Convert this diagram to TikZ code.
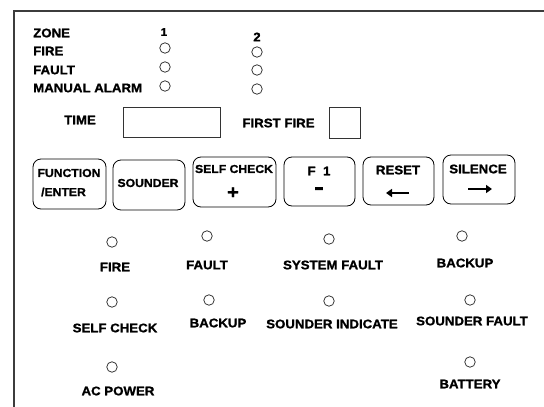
\documentclass[tikz,border=0pt]{standalone}
\usepackage{fontspec}
\usetikzlibrary{arrows.meta}
\newfontfamily\lblfont{Liberation Sans}[FakeStretch=1.06, FakeBold=1.2]
\newfontfamily\barfont{Liberation Sans}[FakeStretch=1.6, FakeBold=5]
\definecolor{framegray}{HTML}{3C3C3C}
\definecolor{ledgray}{HTML}{303030}
\begin{document}
\begin{tikzpicture}[x=1pt,y=-1pt,
  lbl/.style={font=\lblfont\bfseries\fontsize{12.5}{13}\selectfont, inner sep=0pt},
  blbl/.style={font=\lblfont\bfseries\fontsize{11.5}{12}\selectfont, inner sep=0pt},
  blblL/.style={font=\lblfont\bfseries\fontsize{12.5}{13}\selectfont, inner sep=0pt},
  led/.style={circle, draw=ledgray, line width=0.75pt, minimum size=10.5pt, inner sep=0pt},
  btn/.style={draw=black, rounded corners=8pt, line width=0.8pt, inner sep=0pt},
  dispbox/.style={draw=black!80, line width=0.9pt, inner sep=0pt},
  framepen/.style={draw=framegray, line width=1.6pt},
  keyarrow/.style={line width=2.4pt, -{Triangle[length=6pt,width=8pt]}}]
\useasboundingbox (0,0) rectangle (544,407);
\fill[white] (0,0) rectangle (544,407);
% frame
\draw[framepen] (14,408) -- (14,11) -- (545,11);
% zone block
\node[lbl, anchor=west] (zone) at (33,33) {ZONE};
\node[lbl, anchor=west] (fire) at (33,51) {FIRE};
\node[lbl, anchor=west] (fault) at (33,70) {FAULT};
\node[lbl, anchor=west] (manual) at (33,88) {MANUAL ALARM};
\node[font=\lblfont\bfseries\fontsize{11}{11}\selectfont, inner sep=0pt] (z1) at (164,32) {1};
\node[led] (z1a) at (165,48) {};
\node[led] (z1b) at (165,67) {};
\node[led] (z1c) at (165,86) {};
\node[lbl] (z2) at (257,37) {2};
\node[led] (z2a) at (257,52) {};
\node[led] (z2b) at (257,70) {};
\node[led] (z2c) at (257,89) {};
% time
\node[lbl] (time) at (80,120) {TIME};
\node[dispbox, minimum width=97pt, minimum height=30pt] (timebox) at (171.5,122) {};
\node[lbl] (firstfire) at (278.5,123) {FIRST FIRE};
\node[dispbox, minimum width=31pt, minimum height=31pt] (ffbox) at (344.5,122.5) {};
% buttons
\node[btn, minimum width=73pt, minimum height=50pt] (bfn) at (69.5,184) {};
\node[blbl] (bfnA) at (69,173) {FUNCTION};
\node[blbl] (bfnB) at (63.5,192) {/ENTER};
\node[btn, minimum width=72pt, minimum height=50pt] (bsnd) at (149,185) {};
\node[blbl] (bsndA) at (148,183) {SOUNDER};
\node[btn, minimum width=83pt, minimum height=50pt] (bsc) at (234.5,182) {};
\node[blbl] (bscA) at (234,169) {SELF CHECK};
\node[font=\lblfont\bfseries\fontsize{19}{19}\selectfont, inner sep=0pt] (bscB) at (233,193) {+};
\node[btn, minimum width=71pt, minimum height=49pt] (bf1) at (319.5,181.5) {};
\node[blblL] (bf1A) at (319,171) {F\ \ 1};
\node[font=\barfont\bfseries\fontsize{17}{17}\selectfont, inner sep=0pt, anchor=base] (bf1B) at (319,193) {-};
\node[btn, minimum width=71pt, minimum height=48pt] (brst) at (398.5,181) {};
\node[blblL] (brstA) at (398,170) {RESET};
\coordinate (rstR) at (409,193);
\coordinate (rstL) at (386,193);
\draw[keyarrow] (rstR) -- (rstL);
\node[btn, minimum width=72pt, minimum height=49pt] (bsil) at (479,179.5) {};
\node[blblL] (bsilA) at (478,169) {SILENCE};
\coordinate (silL) at (468,189);
\coordinate (silR) at (492,189);
\draw[keyarrow] (silL) -- (silR);
% status LEDs
\node[led] (lfire) at (112,242) {};
\node[lbl] (tfire) at (115,267) {FIRE};
\node[led] (lfault) at (207,236) {};
\node[lbl] (tfault) at (207,265) {FAULT};
\node[led] (lsys) at (329,239) {};
\node[lbl] (tsys) at (333,265) {SYSTEM FAULT};
\node[led] (lback) at (462,236) {};
\node[lbl] (tback) at (465,263) {BACKUP};
\node[led] (lsc) at (112,302) {};
\node[lbl] (tsc) at (115,328) {SELF CHECK};
\node[led] (lback2) at (209,300) {};
\node[lbl] (tback2) at (218,323) {BACKUP};
\node[led] (lsi) at (329,301) {};
\node[lbl] (tsi) at (332,324) {SOUNDER INDICATE};
\node[led] (lsf) at (470,300) {};
\node[lbl] (tsf) at (472,321) {SOUNDER FAULT};
\node[led] (lac) at (112,367) {};
\node[lbl] (tac) at (118,391) {AC POWER};
\node[led] (lbat) at (470,362) {};
\node[lbl] (tbat) at (470,384) {BATTERY};
\end{tikzpicture}
\end{document}
